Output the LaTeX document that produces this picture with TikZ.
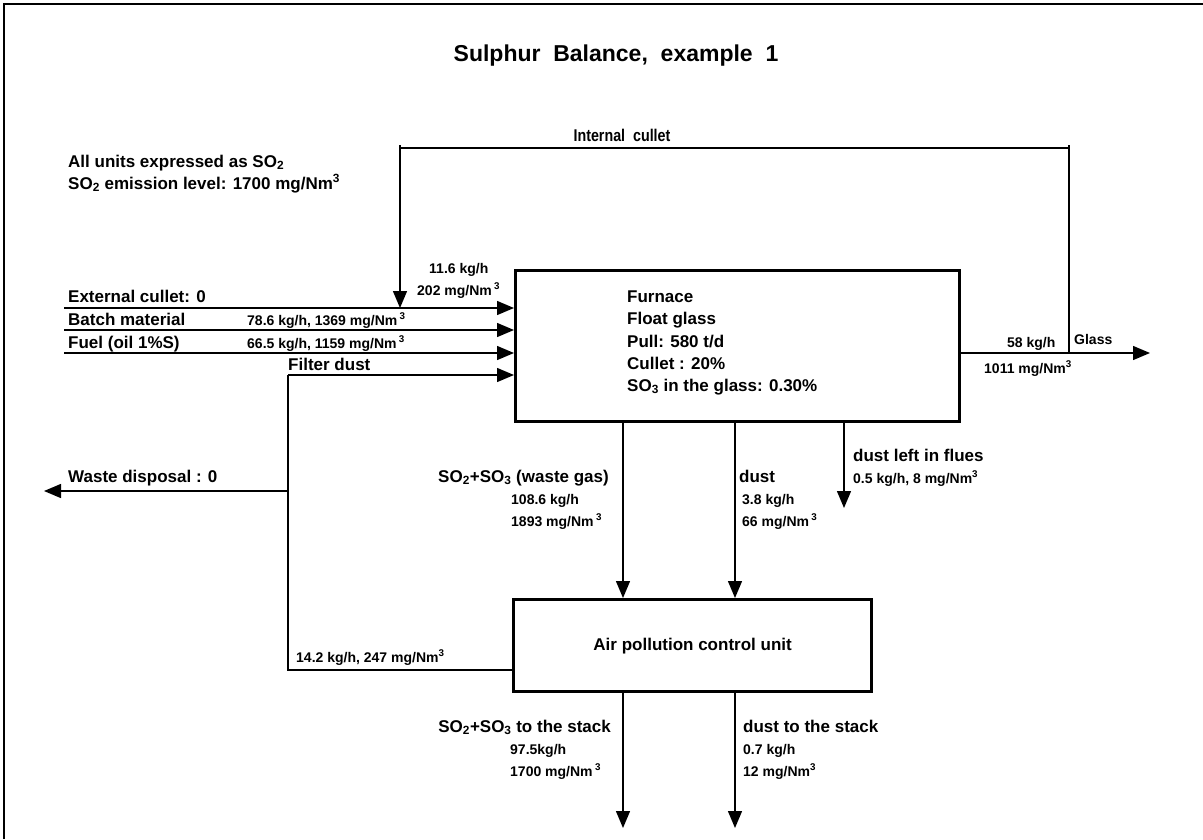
\documentclass[tikz,border=0pt]{standalone}
\usepackage{fontspec}
\setmainfont{Liberation Sans}
\newfontfamily\narrowfont[FakeStretch=0.84]{Liberation Sans}
\usetikzlibrary{arrows.meta}
\begin{document}
\begin{tikzpicture}[x=1pt,y=-1pt,
  flow/.style={line width=1.4pt},
  arr/.style={flow,-{Triangle[length=17pt,width=14pt]}},
  box/.style={draw,line width=3.2pt,inner sep=0pt,anchor=north west},
  lbl/.style={font=\fontsize{17}{20}\selectfont\bfseries,inner sep=0pt,anchor=base west},
  lble/.style={lbl,anchor=base east},
  val/.style={font=\fontsize{14}{16}\selectfont\bfseries,inner sep=0pt,anchor=base west},
]
\useasboundingbox (0,0) rectangle (1203,839);
% frame
\draw[line width=2.5pt] (4,839) -- (4,4) -- (1203,4);

% title
\node[font=\fontsize{23}{26}\selectfont\bfseries,inner sep=0pt,anchor=base] (title) at (616,61) {Sulphur\ \ Balance,\ \ example\ \ 1};

% notes
\node[lbl] (units) at (68,167) {All units expressed as SO\textsubscript{2}};
\node[lbl] (emis) at (68,189) {SO\textsubscript{2} emission level: 1700 mg/Nm\textsuperscript{3}};

% boxes
\node[box,minimum width=444pt,minimum height=151pt] (furnace) at (514,269) {};
\node[box,minimum width=358pt,minimum height=92pt] (apc) at (512,598) {};
\node[font=\fontsize{17}{20}\selectfont\bfseries,inner sep=0pt] (apctext) at (apc.center) {Air pollution control unit};

% furnace text
\node[lbl] (f1) at (627,302) {Furnace};
\node[lbl] (f2) at (627,324) {Float glass};
\node[lbl] (f3) at (627,347) {Pull: 580 t/d};
\node[lbl] (f4) at (627,369) {Cullet : 20\%};
\node[lbl] (f5) at (627,391) {SO\textsubscript{3} in the glass: 0.30\%};

% coordinates
\coordinate (icL) at (400,145);
\coordinate (icR) at (1069,145);
\coordinate (ich) at (0,148);
\coordinate (ec) at (64,308);
\coordinate (bm) at (64,330);
\coordinate (fu) at (64,353);
\coordinate (fj) at (288,375);
\coordinate (wj) at (288,491);
\coordinate (wd) at (44,491);
\coordinate (lp) at (288,670);
\coordinate (gl) at (0,353);
\coordinate (gt) at (1150,353);
\coordinate (xa) at (623,0);
\coordinate (xb) at (735,0);
\coordinate (xc) at (844,0);
\coordinate (dl) at (844,508);
\coordinate (sa) at (623,828);
\coordinate (sb) at (735,828);

% internal cullet loop
\draw[flow] (icL |- ich) -- (icR |- ich);
\draw[arr] (icL) -- (icL |- ec);
\draw[flow] (icR) -- (icR |- gl);
\node[font=\fontsize{17}{20}\selectfont\narrowfont\bfseries,inner sep=0pt,anchor=base] (iclbl) at (622,141) {Internal\ \ cullet};

% inputs
\draw[arr] (ec) -- (ec -| furnace.west);
\draw[arr] (bm) -- (bm -| furnace.west);
\draw[arr] (fu) -- (fu -| furnace.west);
\draw[arr] (fj) -- (fj -| furnace.west);
\node[lbl] (eclbl) at (68,302) {External cullet: 0};
\node[lbl] (bmlbl) at (68,325) {Batch material};
\node[lbl] (fulbl) at (68,348) {Fuel (oil 1\%S)};
\node[lbl] (fdlbl) at (288,370) {Filter dust};
\node[val] (bmval) at (247,325) {78.6 kg/h, 1369 mg/Nm\,\textsuperscript{3}};
\node[val] (fuval) at (247,348) {66.5 kg/h, 1159 mg/Nm\,\textsuperscript{3}};
\node[val] (icv1) at (429,273) {11.6 kg/h};
\node[val] (icv2) at (417,295) {202 mg/Nm\,\textsuperscript{3}};

% filter dust loop and waste
\draw[flow] (apc.west |- lp) -- (lp) -- (fj);
\draw[arr] (wj) -- (wd);
\node[lbl] (wdlbl) at (68,482) {Waste disposal : 0};
\node[val] (fdval) at (296,662) {14.2 kg/h, 247 mg/Nm\textsuperscript{3}};

% glass output
\draw[arr] (furnace.east |- gl) -- (gt);
\node[val] (gv1) at (1007,347) {58 kg/h};
\node[val] (gv2) at (984,373) {1011 mg/Nm\textsuperscript{3}};
\node[val] (glbl) at (1074,344) {Glass};

% furnace to APC
\draw[arr] (xa |- furnace.south) -- (xa |- apc.north);
\draw[arr] (xb |- furnace.south) -- (xb |- apc.north);
\node[lble] (wglbl) at (609,482) {SO\textsubscript{2}+SO\textsubscript{3} (waste gas)};
\node[val] (wgv1) at (511,504) {108.6 kg/h};
\node[val] (wgv2) at (511,526) {1893 mg/Nm\,\textsuperscript{3}};
\node[lbl] (dlbl) at (739,482) {dust};
\node[val] (dv1) at (742,504) {3.8 kg/h};
\node[val] (dv2) at (742,526) {66 mg/Nm\,\textsuperscript{3}};

% dust left in flues
\draw[arr] (xc |- furnace.south) -- (dl);
\node[lbl] (dllbl) at (853,461) {dust left in flues};
\node[val] (dlv) at (853,483) {0.5 kg/h, 8 mg/Nm\textsuperscript{3}};

% stack
\draw[arr] (xa |- apc.south) -- (sa);
\draw[arr] (xb |- apc.south) -- (sb);
\node[lble] (slbl) at (611,732) {SO\textsubscript{2}+SO\textsubscript{3} to the stack};
\node[val] (sv1) at (510,754) {97.5kg/h};
\node[val] (sv2) at (510,776) {1700 mg/Nm\,\textsuperscript{3}};
\node[lbl] (dslbl) at (743,732) {dust to the stack};
\node[val] (dsv1) at (743,754) {0.7 kg/h};
\node[val] (dsv2) at (743,776) {12 mg/Nm\textsuperscript{3}};
\end{tikzpicture}
\end{document}
